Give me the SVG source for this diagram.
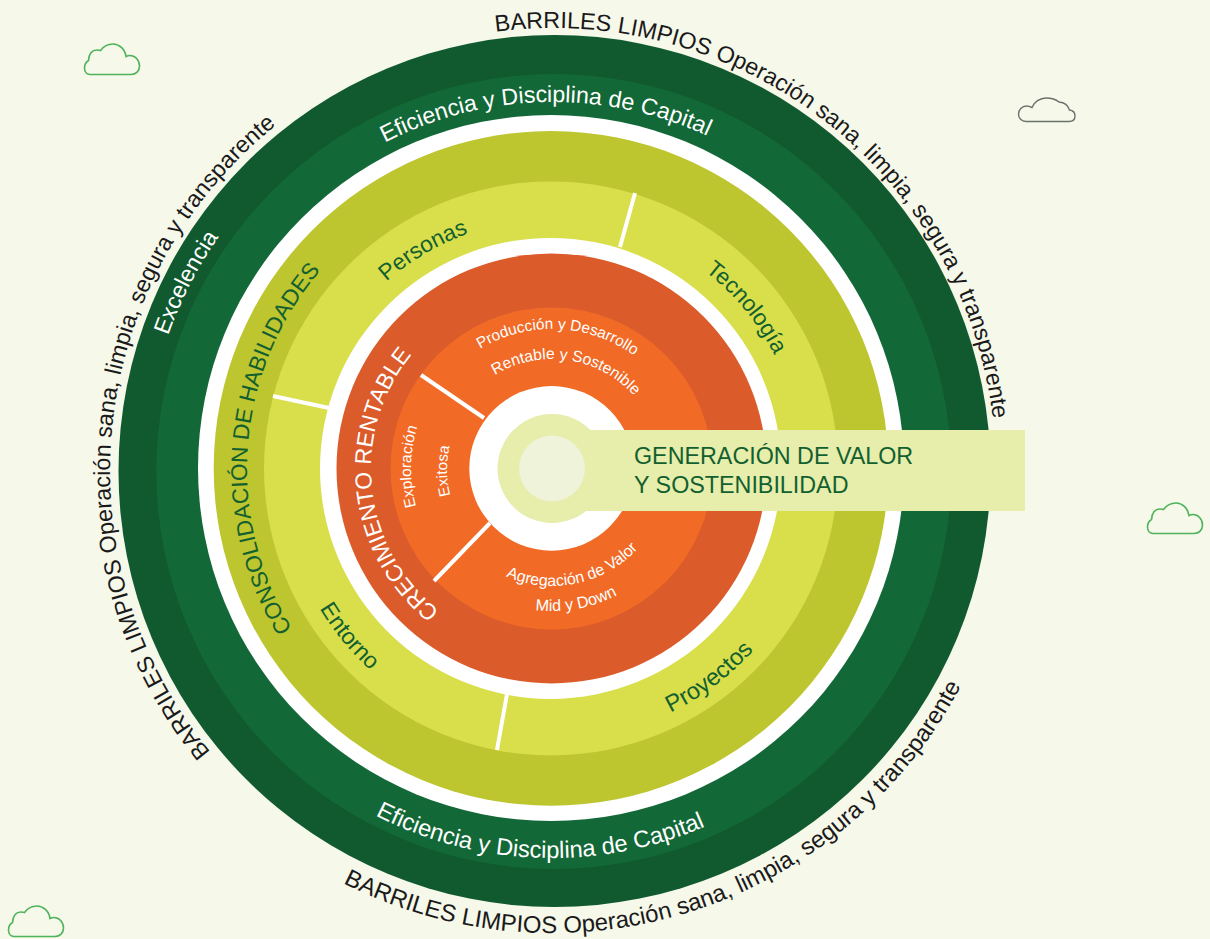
<svg xmlns="http://www.w3.org/2000/svg" width="1210" height="939" viewBox="0 0 1210 939">
<style>
text{font-family:"Liberation Sans",Arial,sans-serif;text-anchor:middle}
.blk{fill:#1a1a1a;font-size:23.3px}
.w{fill:#fff}
.g{fill:#12602f}
.cl{fill:none;stroke:#4fb35c;stroke-width:1.6}
.dv{stroke:#fff;stroke-width:4;fill:none}
</style>
<defs>
<path id="t443" d="M110 471A443 443 0 0 1 996 471"/>
<path id="b462" d="M90 471A462 462 0 0 0 1014 471"/>
<path id="t408" d="M145 471A408 408 0 0 1 961 471"/>
<path id="t367" d="M185 470A368 368 0 0 1 921 470"/>
<path id="b388" d="M164 470A388 388 0 0 0 940 470"/>
<path id="t305" d="M247 469A305 305 0 0 1 857 469"/>
<path id="t250" d="M302 469A250 250 0 0 1 802 469"/>
<path id="b271" d="M281 469A271 271 0 0 0 823 469"/>
<path id="t181" d="M371 469A181 181 0 0 1 733 469"/>
<path id="t140" d="M412 469A140 140 0 0 1 692 469"/>
<path id="t110" d="M442 469A110 110 0 0 1 662 469"/>
<path id="t141" d="M411 469A141 141 0 0 1 693 469"/>
<path id="t105" d="M447 469A105 105 0 0 1 657 469"/>
<path id="b117" d="M435 469A117 117 0 0 0 669 469"/>
<path id="b142" d="M410 469A142 142 0 0 0 694 469"/>
<path id="cloud" d="M90 74.5H131C136 74.5 139.5 71 139.5 66C139.5 60 135 55.5 130 55.5C128.5 55.5 127 56 126 56.5C125 49 119 44 113 44C107 44 103 47 100.5 50.5C99 50 98 50 97 50C92 50 89 54 88.5 60.5C86 62 84.5 65 84.5 68C84.5 72 87 74.5 90 74.5Z"/>
</defs>
<rect width="1210" height="939" fill="#f6f8ea"/>
<g id="clouds">
<use href="#cloud" class="cl"/>
<use href="#cloud" class="cl" transform="translate(-76 862)"/>
<use href="#cloud" class="cl" transform="translate(1063 459)"/>
<path d="M1026 121.5H1069C1073 121.5 1075 119 1075 116C1075 113 1073 110.5 1069.5 110C1068 105 1064 102.5 1059 102C1056 99.5 1051 98 1046 98C1040 98 1034 102 1032 107.5C1030 106.5 1028 106 1026.5 106C1022 106 1018.5 110 1018.5 114C1018.5 118 1021.5 121.5 1026 121.5Z" fill="none" stroke="#6d716d" stroke-width="1.4"/>
</g>
<g id="rings">
<circle cx="554.5" cy="471" r="436" fill="#115a30"/>
<circle cx="553.8" cy="471.5" r="397.5" fill="#126837"/>
<circle cx="551" cy="468" r="353" fill="#fff"/>
<circle cx="551" cy="468.4" r="337.3" fill="#bdc52f"/>
<circle cx="551" cy="468.4" r="287" fill="#d9de4b"/>
<circle cx="550.5" cy="468.4" r="230.5" fill="#fff"/>
<circle cx="551.5" cy="468.5" r="215" fill="#db5b2a"/>
<circle cx="551.5" cy="468.5" r="161" fill="#f16a26"/>
<circle cx="551.6" cy="468.4" r="82.3" fill="#fff"/>
</g>
<g id="dividers">
<path class="dv" d="M620 247L635 193M273 396L329 408M497 750L507 694M421 375L484 418M434 581L490 523"/>
</g>
<g id="center">
<circle cx="552" cy="468.5" r="54.5" fill="#e7edab"/>
<rect x="585" y="430" width="440" height="81" fill="#e7edab"/>
<circle cx="552" cy="468.5" r="33" fill="#eef3da"/>
<text class="g" font-size="23.3" style="text-anchor:start" x="634" y="464">GENERACIÓN DE VALOR</text>
<text class="g" font-size="23.3" style="text-anchor:start" x="634" y="493">Y SOSTENIBILIDAD</text>
</g>
<g id="outer-labels">
<g transform="rotate(37.9 553 471)"><text class="blk"><textPath href="#t443" startOffset="50%">BARRILES LIMPIOS Operación sana, limpia, segura y transparente</textPath></text></g>
<g transform="rotate(-84 553 471)"><text class="blk"><textPath href="#t443" startOffset="50%">BARRILES LIMPIOS Operación sana, limpia, segura y transparente</textPath></text></g>
<g transform="rotate(-17.7 552 471)"><text class="blk" style="font-size:23.9px"><textPath href="#b462" startOffset="50%">BARRILES LIMPIOS Operación sana, limpia, segura y transparente</textPath></text></g>
<g transform="rotate(-62.8 553 471)"><text class="w" font-size="23"><textPath href="#t408" startOffset="50%">Excelencia</textPath></text></g>
<g transform="rotate(-1.2 553 470)"><text class="w" font-size="23.2"><textPath href="#t367" startOffset="50%">Eficiencia y Disciplina de Capital</textPath></text></g>
<g transform="rotate(1.9 552 470)"><text class="w" font-size="23.7"><textPath href="#b388" startOffset="50%">Eficiencia y Disciplina de Capital</textPath></text></g>
</g>
<g id="habilidades">
<g transform="rotate(-85.5 552 469)"><text class="g" font-size="22.7"><textPath href="#t305" startOffset="50%">CONSOLIDACIÓN DE HABILIDADES</textPath></text></g>
<g transform="rotate(-30.5 552 469)"><text class="g" font-size="22.7"><textPath href="#t250" startOffset="50%">Personas</textPath></text></g>
<g transform="rotate(50.3 552 469)"><text class="g" font-size="22.7"><textPath href="#t250" startOffset="50%">Tecnología</textPath></text></g>
<g transform="rotate(-37 552 469)"><text class="g" font-size="23.6"><textPath href="#b271" startOffset="50%">Proyectos</textPath></text></g>
<g transform="rotate(50.5 552 469)"><text class="g" font-size="23"><textPath href="#b271" startOffset="50%">Entorno</textPath></text></g>
</g>
<g id="crecimiento">
<g transform="rotate(-96.2 552 469)"><text class="w" font-size="23"><textPath href="#t181" startOffset="50%">CRECIMIENTO RENTABLE</textPath></text></g>
<g transform="rotate(2.5 552 469)"><text class="w" font-size="15.4"><textPath href="#t140" startOffset="50%">Producción y Desarrollo</textPath></text></g>
<g transform="rotate(8.5 552 469)"><text class="w" font-size="15.7"><textPath href="#t110" startOffset="50%">Rentable y Sostenible</textPath></text></g>
<g transform="rotate(-89 552 469)"><text class="w" font-size="15.5"><textPath href="#t141" startOffset="50%">Exploración</textPath></text></g>
<g transform="rotate(-91 552 469)"><text class="w" font-size="15.2"><textPath href="#t105" startOffset="50%">Exitosa</textPath></text></g>
<g transform="rotate(-12 552 469)"><text class="w" font-size="16"><textPath href="#b117" startOffset="50%">Agregación de Valor</textPath></text></g>
<g transform="rotate(-10.3 552 469)"><text class="w" font-size="16.2"><textPath href="#b142" startOffset="50%">Mid y Down</textPath></text></g>
</g>
</svg>
